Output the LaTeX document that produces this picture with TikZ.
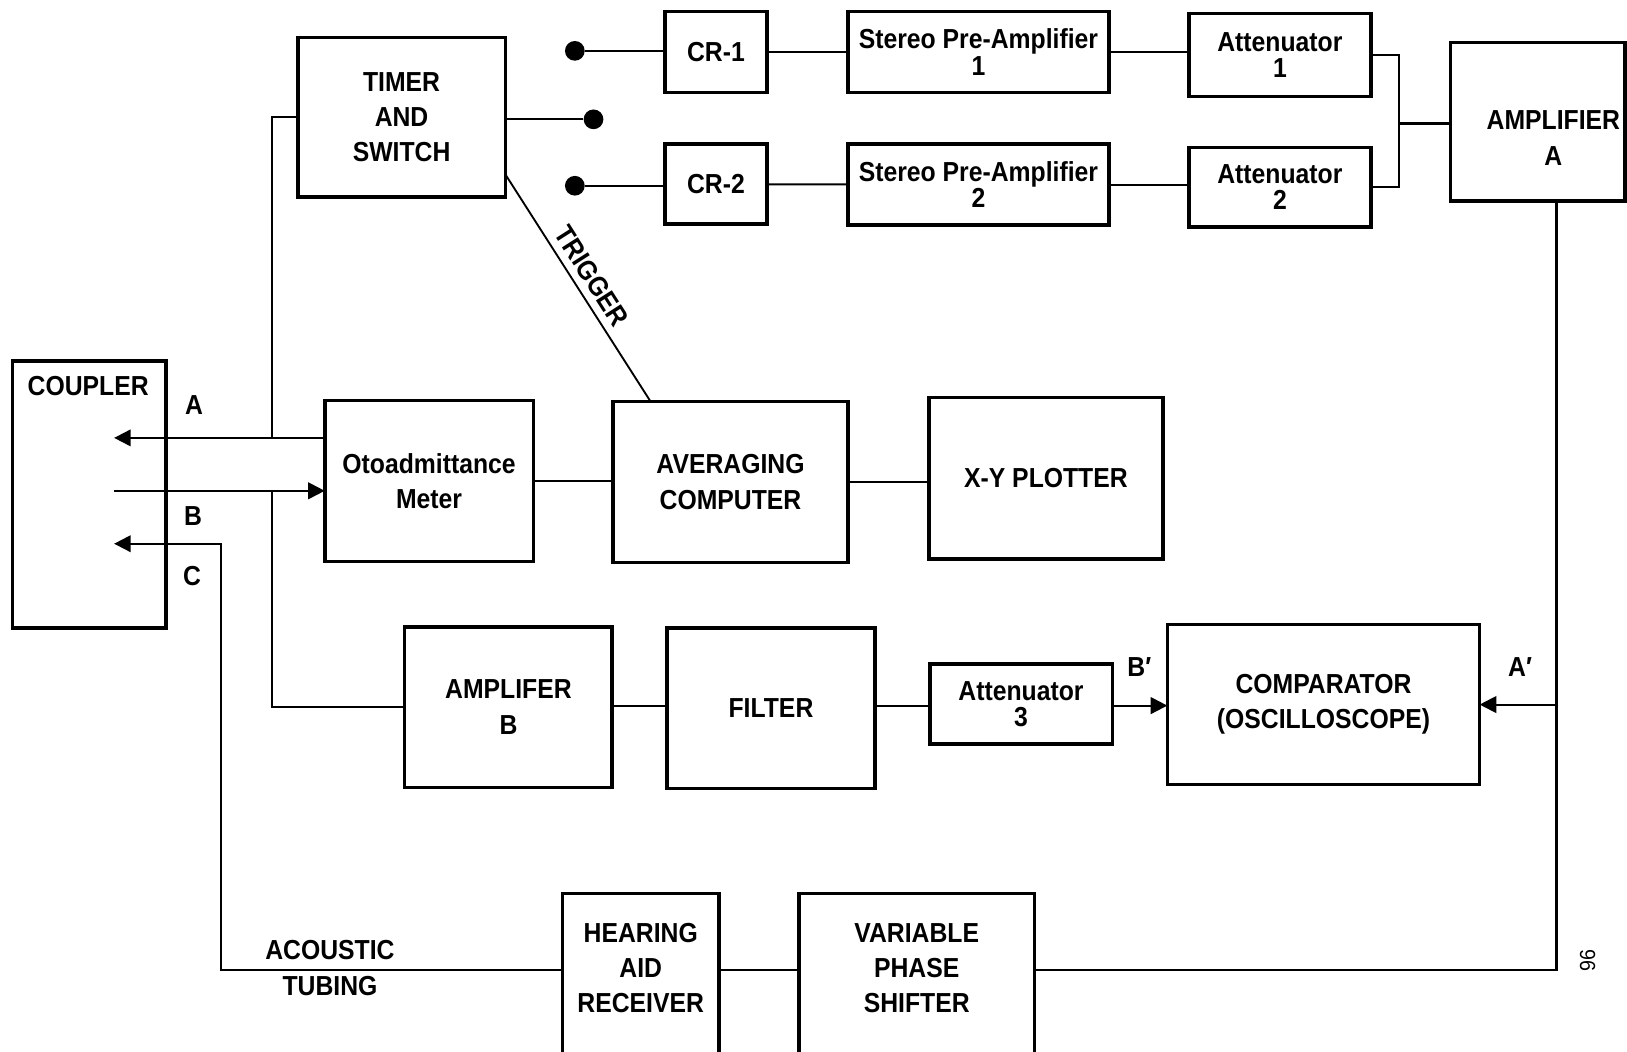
\documentclass[tikz,border=0pt]{standalone}
\usepackage{fontspec}
\setmainfont[FakeStretch=0.9]{Liberation Sans}
\usetikzlibrary{arrows.meta,calc}
\begin{document}
\begin{tikzpicture}[x=1pt,y=-1pt,
  box/.style={draw, line width=3.5pt, inner sep=0pt, outer sep=0pt, align=center,
    font=\bfseries\fontsize{26.5}{34}\selectfont},
  tbox/.style={box, font=\bfseries\fontsize{26.5}{25.5}\selectfont},
  lbl/.style={inner sep=0pt, align=center, font=\bfseries\fontsize{26.5}{34}\selectfont},
  wire/.style={line width=2pt},
  arr/.style={wire, -{Triangle[length=16pt,width=16pt]}},
  dotnode/.style={circle, fill, inner sep=0pt, minimum size=19pt},
]
\useasboundingbox (0,0) rectangle (1568,1013);
\clip (0,0) rectangle (1568,1013);

% boxes
\node[box, minimum width=200pt, minimum height=154pt] (tim) at (387,113) {TIMER\\AND\\SWITCH};
\node[box, minimum width=98pt, minimum height=78pt] (cr1) at (690,50) {CR-1};
\node[box, minimum width=98pt, minimum height=77pt] (cr2) at (690,177.5) {CR-2};
\node[tbox, minimum width=252pt, minimum height=78pt] (sp1) at (943,50) {Stereo Pre-Amplifier\\1};
\node[tbox, minimum width=252pt, minimum height=78pt] (sp2) at (943,178) {Stereo Pre-Amplifier\\2};
\node[tbox, minimum width=175pt, minimum height=80pt] (at1) at (1233.5,53) {Attenuator\\1};
\node[tbox, minimum width=175pt, minimum height=77pt] (at2) at (1233.5,180.5) {Attenuator\\2};
\node[box, minimum width=168pt, minimum height=153pt] (ampa) at (1482,117.5) {};
\node[lbl] (ampat) at (1497,133) {AMPLIFIER\\A};
\node[box, minimum width=148pt, minimum height=257pt] (cpl) at (86,476.5) {};
\node[lbl] (cplt) at (85,372) {COUPLER};
\node[box, minimum width=201pt, minimum height=155pt] (oto) at (413.5,463.5) {Otoadmittance\\Meter};
\node[box, minimum width=226pt, minimum height=155pt] (avg) at (704,464.5) {AVERAGING\\COMPUTER};
\node[box, minimum width=226pt, minimum height=156pt] (xy) at (1008,461) {X-Y PLOTTER};
\node[box, minimum width=200pt, minimum height=155pt] (ampb) at (490,681.5) {AMPLIFER\\B};
\node[box, minimum width=200pt, minimum height=155pt] (fil) at (743,682.5) {FILTER};
\node[tbox, minimum width=176pt, minimum height=77pt] (at3) at (984,678.5) {Attenuator\\3};
\node[box, minimum width=301pt, minimum height=154pt] (cmp) at (1275.5,679) {COMPARATOR\\(OSCILLOSCOPE)};
\node[box, minimum width=151pt, minimum height=169pt] (har) at (617.5,945.5) {};
\node[lbl] (hart) at (617.5,933) {HEARING\\AID\\RECEIVER};
\node[box, minimum width=227pt, minimum height=169pt] (vps) at (883.5,945.5) {};
\node[lbl] (vpst) at (883.5,933) {VARIABLE\\PHASE\\SHIFTER};

% switch contacts
\node[dotnode] (d1) at (554,49) {};
\node[dotnode] (d2) at (572,115) {};
\node[dotnode] (d3) at (554,179) {};

% helper coordinates
\coordinate (j) at (1348,119);
\coordinate (k) at (1500,935);
\coordinate (vA) at (262,422);
\coordinate (vB) at (262,473);
\coordinate (cA) at (110,422);
\coordinate (cB) at (110,473);
\coordinate (cC) at (110,524);
\coordinate (tC) at (213,935);
\coordinate (r) at (0,680);

% top chain
\draw[wire] (d1) -- (cr1.west |- d1);
\draw[wire] (tim.east |- d2) -- (d2);
\draw[wire] (d3) -- (cr2.west |- d3);
\draw[wire] (cr1) -- (sp1);
\draw[wire] (cr2) -- (sp2);
\draw[wire] (sp1.east) -- (sp1.east -| at1.west);
\draw[wire] (sp2.east) -- (sp2.east -| at2.west);
\draw[wire] (at1.east) -| (j) |- (at2.east);
\draw[wire] (j) -- (j -| ampa.west);
\draw[wire] (ampa.south -| k) -- (k) -- (k -| vps.east);
\draw[arr] (k |- cmp.east) -- (cmp.east);

% trigger
\draw[line width=1.8pt] ($(tim.south east)+(0,-22)$) -- ($(avg.north west)+(36,0)$)
  node[pos=0.49, sloped, above, inner sep=7pt, font=\bfseries\fontsize{26.5}{30}\selectfont] (trg) {TRIGGER};

% left side
\draw[wire] (tim.west) -| (vA);
\draw[wire] (vB) |- (ampb.west);
\draw[arr] (oto.west |- vA) -- (cA);
\draw[arr] (cB) -- (cB -| oto.west);
\draw[arr] (har.west |- tC) -- (tC) |- (cC);
\draw[wire] (oto.east) -- (oto.east -| avg.west);
\draw[wire] (avg.east) -- (avg.east -| xy.west);

% middle row
\draw[wire] (ampb.east |- r) -- (fil.west |- r);
\draw[wire] (fil.east |- r) -- (at3.west |- r);
\draw[arr] (at3.east |- r) -- (cmp.west |- r);

% bottom row
\draw[wire] (har.east |- tC) -- (vps.west |- tC);

% labels
\node[lbl] (la) at (187,390) {A};
\node[lbl] (lb) at (186,497) {B};
\node[lbl] (lc) at (185,555) {C};
\node[lbl] (lbp) at (1098,643) {B′};
\node[lbl] (lap) at (1465,643) {A′};
\node[lbl] (lac) at (318,933) {ACOUSTIC\\TUBING};
\node[inner sep=0pt, rotate=90, font=\fontsize{21}{21}\selectfont] (pg) at (1530,926) {96};
\end{tikzpicture}
\end{document}
